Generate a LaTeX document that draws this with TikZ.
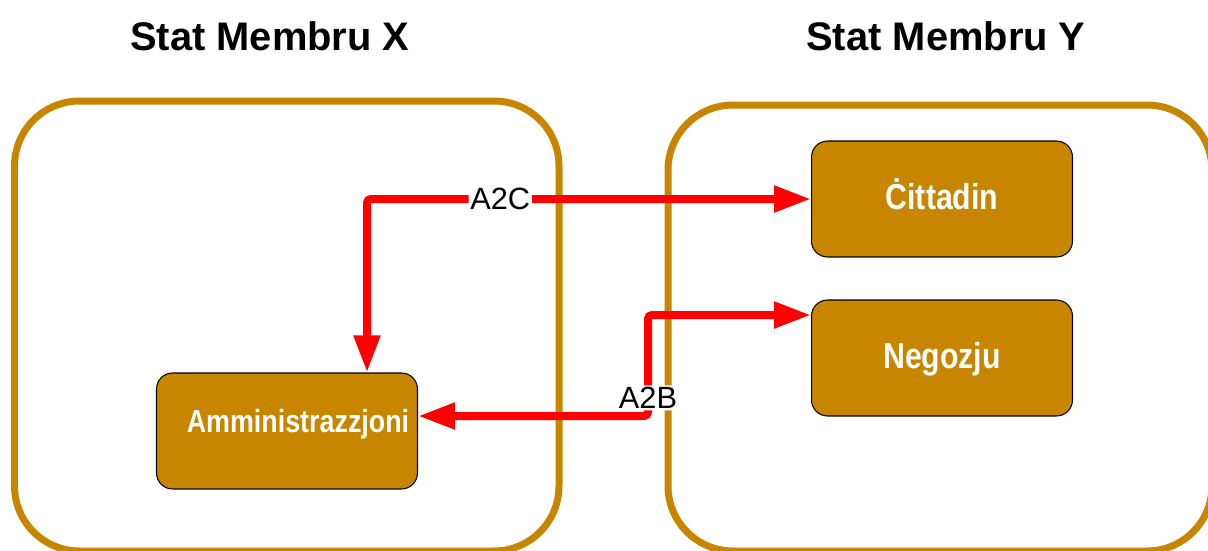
\documentclass[tikz,border=0pt]{standalone}
\usepackage{fontspec}
\setmainfont{Liberation Sans}
\newfontfamily\narrowsans[FakeStretch=0.84]{Liberation Sans}
\usetikzlibrary{arrows.meta,positioning}
\definecolor{ochre}{RGB}{200,133,0}
\tikzset{
        panel/.style={draw=ochre, line width=0.14cm, rounded corners=1.3cm},
        actor/.style={draw=black, fill=ochre, rounded corners=0.32cm, line width=0.6pt,
            minimum width=5.22cm, minimum height=2.32cm, text=white,
            text height=0.6cm, text depth=0.18cm,
            font=\narrowsans\bfseries\fontsize{20.5}{24}\selectfont},
        actor text/.style={text=white, font=\narrowsans\bfseries\fontsize{18.2}{22}\selectfont},
        link/.style={draw=red, line width=0.16cm, rounded corners=0.08cm, <->,
            >={Triangle[length=0.74cm,width=0.5cm]}},
        tag/.style={fill=white, inner sep=1pt, font=\fontsize{17.5}{21}\selectfont},
        heading/.style={font=\bfseries\fontsize{22.7}{27}\selectfont},
    }
\begin{document}
\begin{tikzpicture}[x = 0.02cm, y = -0.02cm]
                \clip (0,0) rectangle (1208,551);
                % the two member states
                \draw[panel] (14.5,101) rectangle (559,551);
                \draw[panel] (668,105) rectangle (1212,551);
                \node[heading] (sx) at (270,36) {Stat Membru X};
                \node[heading] (sy) at (946,36) {Stat Membru Y};
                \node[actor] (cit) at (942,199) {Ċittadin};
                \node[actor] (neg) at (942,358) {Negozju};
                \node[actor] (adm) at (287,431) {};
                \node[actor text] at ([xshift=0.22cm,yshift=0.14cm]adm.center) {Amministrazzjoni};
                % exchanges
                \coordinate (ca) at (367,199);
                \coordinate (cb) at (648,315);
                \coordinate (bb) at (648,416);
                \draw[link] (adm.north -| ca) -- (ca) -- node[tag, pos=0.3] {A2C} (cit.west |- ca);
                \draw[link] (neg.west |- cb) -- (cb) -- node[tag, pos=0.82] {A2B} (bb) -- (adm.east |- bb);
            \end{tikzpicture}
\end{document}
